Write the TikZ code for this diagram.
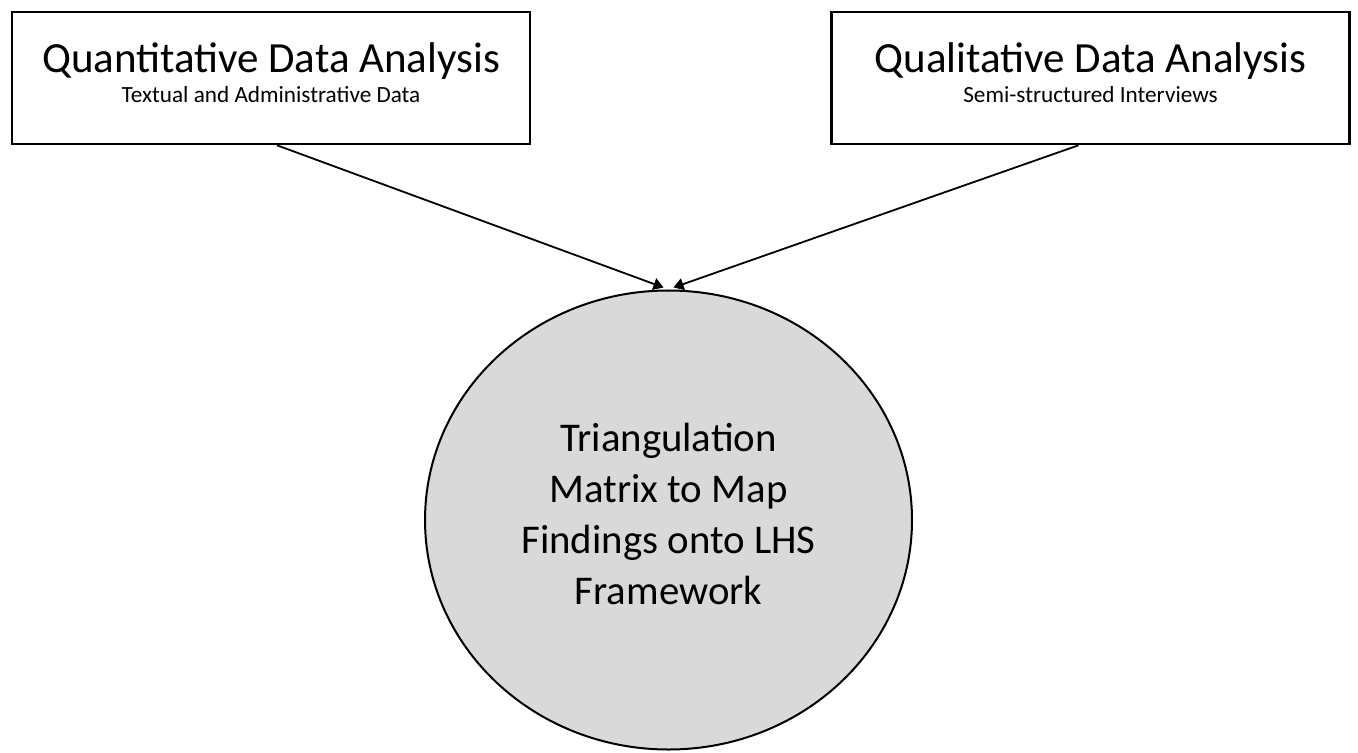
\documentclass[tikz,border=0pt]{standalone}
\usepackage{fontspec}
\setmainfont{Carlito}
\usetikzlibrary{arrows.meta,shapes.geometric}
\definecolor{circlegray}{HTML}{D9D9D9}
\begin{document}
\begin{tikzpicture}[x=0.5pt, y=-0.5pt]
  \tikzstyle{method}=[draw, line width=1.3pt, minimum width=259pt, minimum height=66pt,
                      align=center, inner sep=0pt]
  \tikzstyle{synthesis}=[draw, ellipse, line width=1pt, fill=circlegray, minimum width=243.5pt,
                         minimum height=229.5pt, inner sep=0pt, align=center,
                         font=\fontsize{20.4}{25.5}\selectfont]
  \tikzstyle{feed}=[line width=0.9pt, -{Triangle[width=6pt,length=5pt]}]
  \useasboundingbox (0,0) rectangle (1358,753);
  \node[method] (quant) at (271,78)
    {{\fontsize{21.5}{25}\selectfont Quantitative Data Analysis}\\[3pt]
     {\fontsize{11.6}{14}\selectfont Textual and Administrative Data}\\[-7pt]};
  \node[method] (qual) at (1090.5,78)
    {{\fontsize{21.5}{25}\selectfont Qualitative Data Analysis}\\[3pt]
     {\fontsize{11.6}{14}\selectfont Semi-structured Interviews}\\[-7pt]};
  \node[synthesis] (tri) at (668.5,520)
    {Triangulation\\Matrix to Map\\Findings onto LHS\\Framework\\[-19pt]};
%  arrow ends sit side by side on top of the circle
  \coordinate (inL) at ([xshift=-2.5pt, yshift=1pt]tri.north);
  \coordinate (inR) at ([xshift=2.5pt, yshift=1pt]tri.north);
  \draw[feed] ([xshift=3pt]quant.south) -- (inL);
  \draw[feed] ([xshift=-6pt]qual.south) -- (inR);
\end{tikzpicture}
\end{document}
